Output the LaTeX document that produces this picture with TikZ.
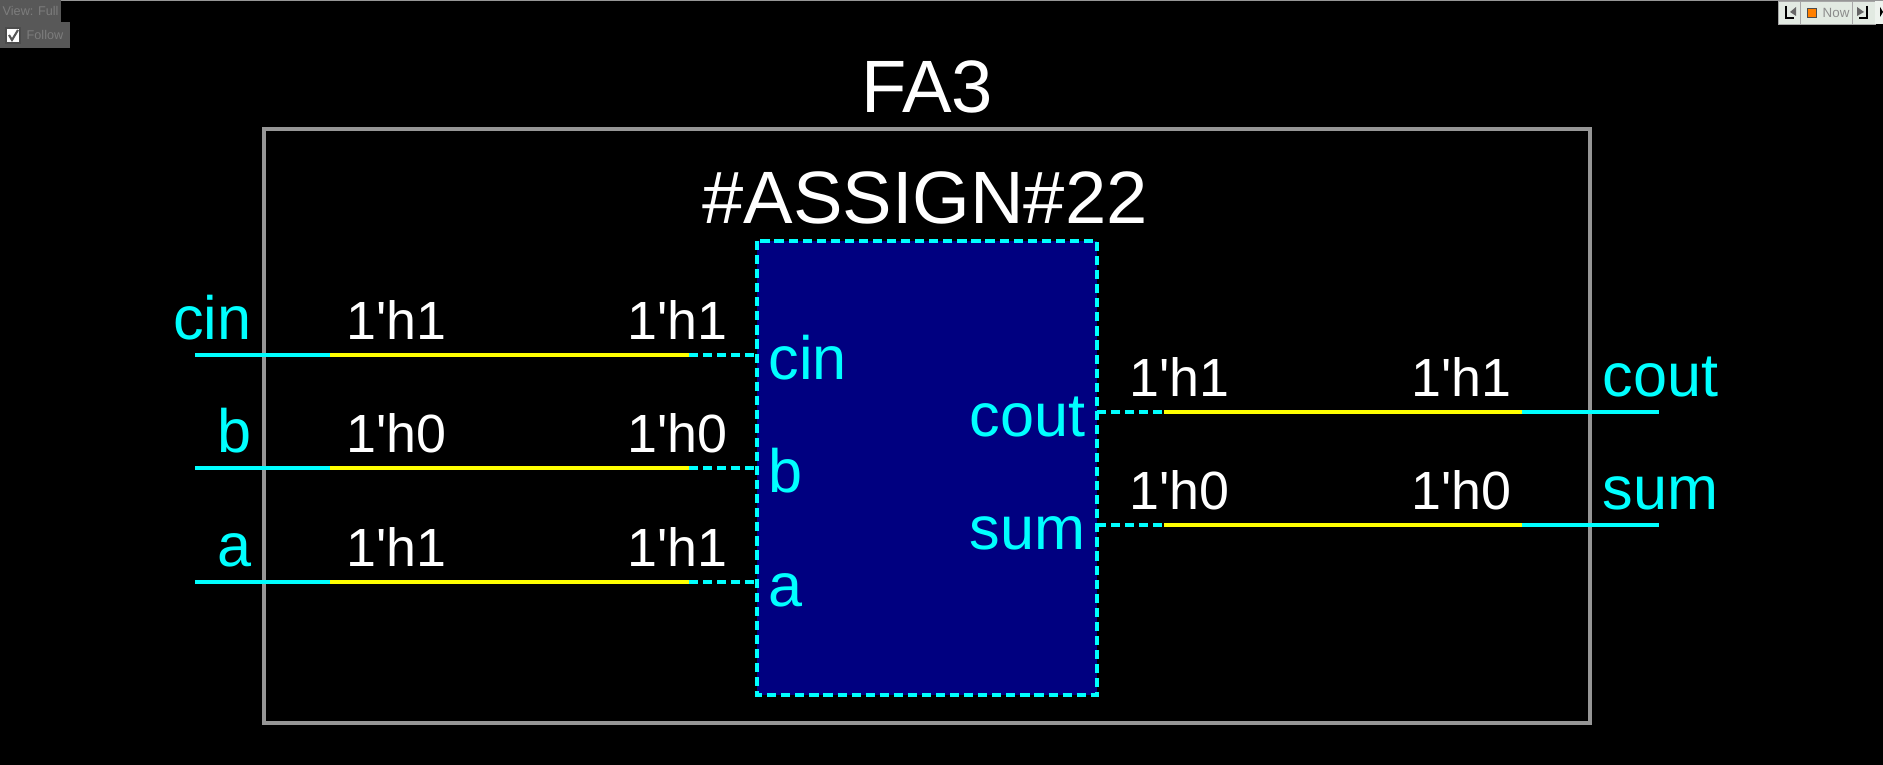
\documentclass[tikz,border=0pt]{standalone}
\usepackage{fontspec}
\setmainfont{Liberation Sans}
\usetikzlibrary{backgrounds}

\definecolor{wirecyan}{RGB}{0,255,255}
\definecolor{wireyellow}{RGB}{255,255,0}
\definecolor{boxblue}{RGB}{0,0,128}
\definecolor{framegray}{RGB}{150,150,150}
\definecolor{chromegray}{RGB}{88,88,88}
\definecolor{chrometext}{RGB}{125,125,125}
\definecolor{toolbtn}{RGB}{226,234,226}

\newcommand{\hione}{1\textquotesingle h1}
\newcommand{\hizero}{1\textquotesingle h0}

\tikzset{
    txt/.style={inner sep=0pt, anchor=base},
    bigtxt/.style={txt, white, font=\fontsize{21.1}{21}\selectfont},
    valtxt/.style={txt, white, anchor=base west, font=\fontsize{15.3}{16}\selectfont},
    porttxt/.style={txt, wirecyan, font=\fontsize{17.4}{18}\selectfont},
    wire/.style={wirecyan, line width=1.05pt},
    sig/.style={wireyellow, line width=1.05pt},
    stub/.style={wirecyan, line width=1.05pt, dash pattern=on 2.6pt off 1.4pt},
    chrome/.style={fill=chromegray, draw=none},
    btn/.style={fill=toolbtn, draw=black!35, line width=0.2pt}
}

\begin{document}
\begin{tikzpicture}[x=0.01cm,y=-0.01cm]

\fill[black] (0,0) rectangle (1883,765);
\useasboundingbox (0,0) rectangle (1883,765);

% top left view box
\draw[framegray, line width=0.3pt] (0,0.5) -- (1883,0.5);
\fill[chrome] (0,0) rectangle (61,22);
\fill[chrome] (0,22) rectangle (70,48);
\draw[fill=white, draw=black!70, line width=0.3pt] (6,28) rectangle (20,43);
\draw[chromegray, line width=0.6pt] (9,35) -- (12,40) -- (18,30);
\node[txt, chrometext, anchor=base west, font=\fontsize{3.6}{4}\selectfont] (viewlbl) at (2,16) {View: Full};
\node[txt, chrometext, anchor=base west, font=\fontsize{3.6}{4}\selectfont] (followlbl) at (26,40) {Follow};

% top right buttons
\draw[btn] (1778,1) rectangle (1800,24);
\draw[btn] (1800,1) rectangle (1852,24);
\draw[btn] (1852,1) rectangle (1875,24);
\fill[toolbtn!60!white] (1875,1) rectangle (1883,24);
\draw[black, line width=0.4pt] (1786,6) -- (1786,18) -- (1794,18);
\fill[black!60] (1790,12) -- (1796,7) -- (1796,16) -- cycle;
\draw[black, line width=0.4pt] (1867,6) -- (1867,18) -- (1859,18);
\fill[black!60] (1864,12) -- (1857,7) -- (1857,16) -- cycle;
\fill[black] (1880,7) -- (1883,12) -- (1880,17) -- cycle;
\draw[fill=orange, draw=black!70, line width=0.2pt] (1807,8) rectangle (1816,17);
\node[txt, black!45, anchor=base west, font=\fontsize{3.8}{4}\selectfont\rmfamily] (nowlbl) at (1822,18) {Now};

% module frame and block
\draw[framegray, line width=0.9pt] (264,129) rectangle (1590,723);
\draw[wirecyan, fill=boxblue, line width=1.05pt, dash pattern=on 2.6pt off 1.4pt] (757,241) rectangle (1097,695);

\node[bigtxt] (fa) at (927,113) {FA3};
\node[bigtxt] (assign) at (925,224) {\#ASSIGN\#22};

% inputs
\foreach \v/\y/\val in {cin/355/\hione, b/468/\hizero, a/582/\hione}
{
    \coordinate (\v A) at (195,\y);
    \coordinate (\v B) at (330,\y);
    \coordinate (\v C) at (689,\y);
    \coordinate (\v D) at (757,\y);
    \draw[wire] (\v A) -- (\v B);
    \draw[sig] (\v B) -- (\v C);
    \draw[stub] (\v C) -- (\v D);
    \node[porttxt, anchor=base east] (\v out) at (252,\y-15) {\v};
    \node[valtxt] (\v vl) at (346,\y-15) {\val};
    \node[valtxt] (\v vr) at (627,\y-15) {\val};
    \node[porttxt, anchor=base west] (\v in) at (768,\y+25) {\v};
}

% outputs
\foreach \v/\y/\val in {cout/412/\hione, sum/525/\hizero}
{
    \coordinate (\v A) at (1097,\y);
    \coordinate (\v B) at (1164,\y);
    \coordinate (\v C) at (1522,\y);
    \coordinate (\v D) at (1659,\y);
    \draw[stub] (\v A) -- (\v B);
    \draw[sig] (\v B) -- (\v C);
    \draw[wire] (\v C) -- (\v D);
    \node[porttxt, anchor=base east] (\v in) at (1086,\y+25) {\v};
    \node[valtxt] (\v vl) at (1129,\y-15) {\val};
    \node[valtxt] (\v vr) at (1411,\y-15) {\val};
    \node[porttxt, anchor=base west] (\v out) at (1602,\y-15) {\v};
}

\end{tikzpicture}
\end{document}
